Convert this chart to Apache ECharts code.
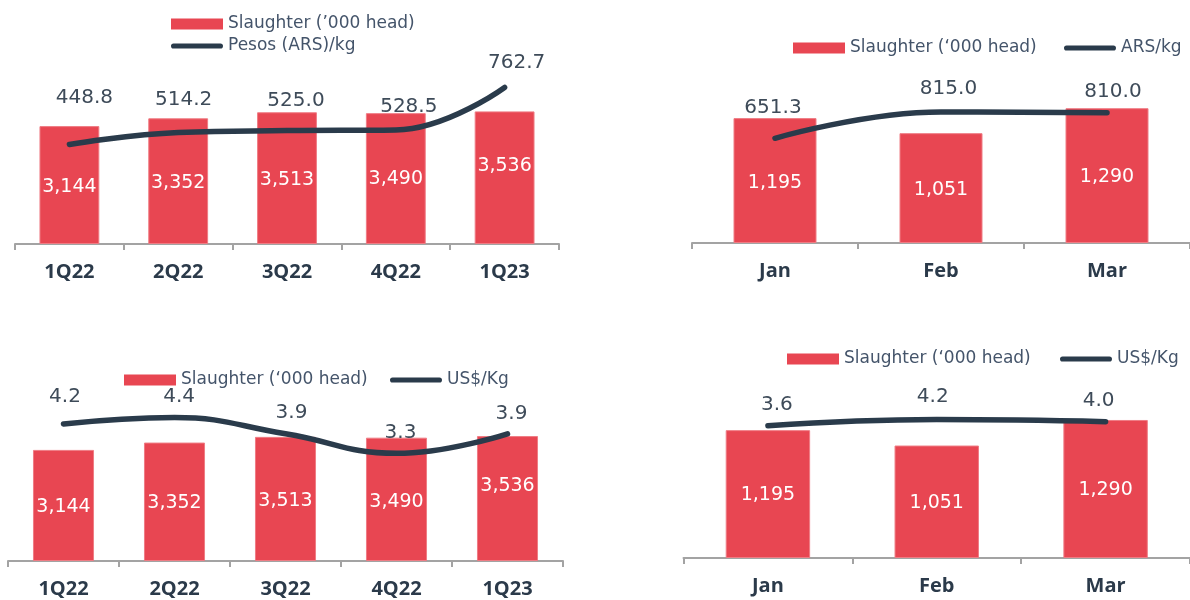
<!DOCTYPE html>
<html>
<head>
<meta charset="utf-8">
<script src="https://cdn.jsdelivr.net/npm/echarts@6/dist/echarts.min.js"></script>
<style>
html,body{margin:0;padding:0;background:#fff;}
#c{width:1190px;height:600px;}
</style>
</head>
<body>
<div id="c"></div>
<script>
// ---------- data ----------
const quarters = ['1Q22', '2Q22', '3Q22', '4Q22', '1Q23'];
const months = ['Jan', 'Feb', 'Mar'];
const slaughterQ = [3144, 3352, 3513, 3490, 3536];
const slaughterM = [1195, 1051, 1290];
const pesosQ = [448.8, 514.2, 525.0, 528.5, 762.7];
const pesosM = [651.3, 815.0, 810.0];
const usdQ = [4.2, 4.4, 3.9, 3.3, 3.9];
const usdM = [3.6, 4.2, 4.0];

const barName1 = 'Slaughter (\u2019000 head)';
const barName2 = 'Slaughter (\u2018000 head)';
const barName3 = 'Slaughter (\u2018000 head) ';
const barName4 = 'Slaughter (\u2018000 head)  ';
const lineName1 = 'Pesos (ARS)/kg';
const lineName2 = 'ARS/kg';
const lineName3 = 'US$/Kg';
const lineName4 = 'US$/Kg ';

// ---------- styling ----------
const RED = '#E84652';
const DARK = '#2A3B4B';
const TXT = '#3E4B59';
const AXIS = '#A3A3A3';
const VALFONT = 'DejaVu Sans';
const CATFONT = 'Open Sans';

// label offsets (layout only)
const offPesosQ = [[15,-47],[5.5,-32.5],[9,-29.5],[13,-23],[12,-24.5]];
const offPesosM = [[-2,-30],[7.5,-23],[6,-21]];
const offUsdQ = [[1.5,-27],[4.6,-20.6],[6,-21],[4,-20.4],[4,-20]];
const offUsdM = [[9,-21],[-4,-22.5],[-7,-20.6]];
const offBarQ1 = [2.5,1.5,1.5,0,-11.5];
const offBarQ2 = [1.5,1.5,2,2.5,-12.5];
const offBarM1 = [2.5,2,1.5];
const offBarM2 = [1,1,1];

const lineIcon = 'path://M2.75,0 L53.25,0 A2.75,2.75 0 0 1 53.25,5.5 L2.75,5.5 A2.75,2.75 0 0 1 2.75,0 Z';

function xAxis(gi, cats) {
  return {
    type: 'category', gridIndex: gi, data: cats,
    axisLine: {show: true, lineStyle: {color: AXIS, width: 2}},
    axisTick: {show: true, length: 6, lineStyle: {color: AXIS, width: 2}},
    axisLabel: {color: '#2B3A4A', fontFamily: CATFONT, fontWeight: 'bold', fontSize: 20, margin: 18}
  };
}
function yAxis(gi, min, max) {
  return {type: 'value', gridIndex: gi, min: min, max: max, show: false, splitLine: {show: false}};
}
function barSeries(name, gi, vals, offs, wid) {
  return {
    type: 'bar', name: name, xAxisIndex: gi, yAxisIndex: gi * 2,
    barWidth: wid, itemStyle: {color: RED, borderColor: '#EF7C84', borderWidth: 1},
    data: vals.map((v, i) => ({value: v, label: {offset: [0, offs[i]]}})),
    label: {show: true, position: 'inside', color: '#fff', fontFamily: VALFONT, fontSize: 19,
      formatter: p => p.value.toLocaleString('en-US')},
    z: 2
  };
}
function lineSeries(name, gi, vals, offs, dec) {
  return {
    type: 'line', name: name, xAxisIndex: gi, yAxisIndex: gi * 2 + 1,
    smooth: 0.45, symbol: 'circle', symbolSize: 1, showSymbol: true,
    lineStyle: {color: DARK, width: 5.5, cap: 'round', join: 'round'},
    itemStyle: {color: DARK},
    data: vals.map((v, i) => ({value: v, label: {offset: offs[i]}})),
    label: {show: true, position: 'inside', color: TXT, fontFamily: VALFONT, fontSize: 20,
      formatter: p => p.value.toFixed(dec)},
    z: 5
  };
}
const legText = {color: '#44546A', fontFamily: VALFONT, fontSize: 17, lineHeight: 20};
function leg(left, top, items, orient) {
  return {
    left: left, top: top, orient: orient || 'horizontal', itemWidth: 52, itemHeight: 11, itemGap: 2,
    selectedMode: false, textStyle: legText,
    data: items.map(n => n.startsWith('Slaughter')
      ? {name: n, icon: 'rect', itemStyle: {borderWidth: 0, color: RED}}
      : {name: n, icon: lineIcon, itemStyle: {borderWidth: 0, color: DARK}})
  };
}

const option = {
  animation: false,
  backgroundColor: '#fff',
  legend: [
    leg(166, 9, [barName1, lineName1], 'vertical'),
    leg(788, 33, [barName2]),
    leg(1059, 33, [lineName2]),
    leg(119, 365, [barName3]),
    leg(385, 365, [lineName3]),
    leg(782, 344, [barName4]),
    leg(1055, 344, [lineName4])
  ],
  grid: [
    {left: 15, width: 544, top: 19, height: 225},
    {left: 692, width: 499.5, top: 34, height: 209},
    {left: 8, width: 555, top: 349, height: 212},
    {left: 683.5, width: 507, top: 344, height: 214}
  ],
  xAxis: [xAxis(0, quarters), xAxis(1, months), xAxis(2, quarters), xAxis(3, months)],
  yAxis: [
    yAxis(0, 0, 6000), yAxis(0, -100, 1140),
    yAxis(1, 0, 2000), yAxis(1, 0, 1300),
    yAxis(2, 0, 6000), yAxis(2, 0, 6.5),
    yAxis(3, 0, 2000), yAxis(3, -9, 11.4)
  ],
  series: [
    barSeries(barName1, 0, slaughterQ, offBarQ1, '55%'),
    lineSeries(lineName1, 0, pesosQ, offPesosQ, 1),
    barSeries(barName2, 1, slaughterM, offBarM1, '50%'),
    lineSeries(lineName2, 1, pesosM, offPesosM, 1),
    barSeries(barName3, 2, slaughterQ, offBarQ2, '55%'),
    lineSeries(lineName3, 2, usdQ, offUsdQ, 1),
    barSeries(barName4, 3, slaughterM, offBarM2, '50%'),
    lineSeries(lineName4, 3, usdM, offUsdM, 1)
  ]
};
const chart = echarts.init(document.getElementById('c'), null, {renderer: 'canvas'});
chart.setOption(option);
</script>
</body>
</html>
